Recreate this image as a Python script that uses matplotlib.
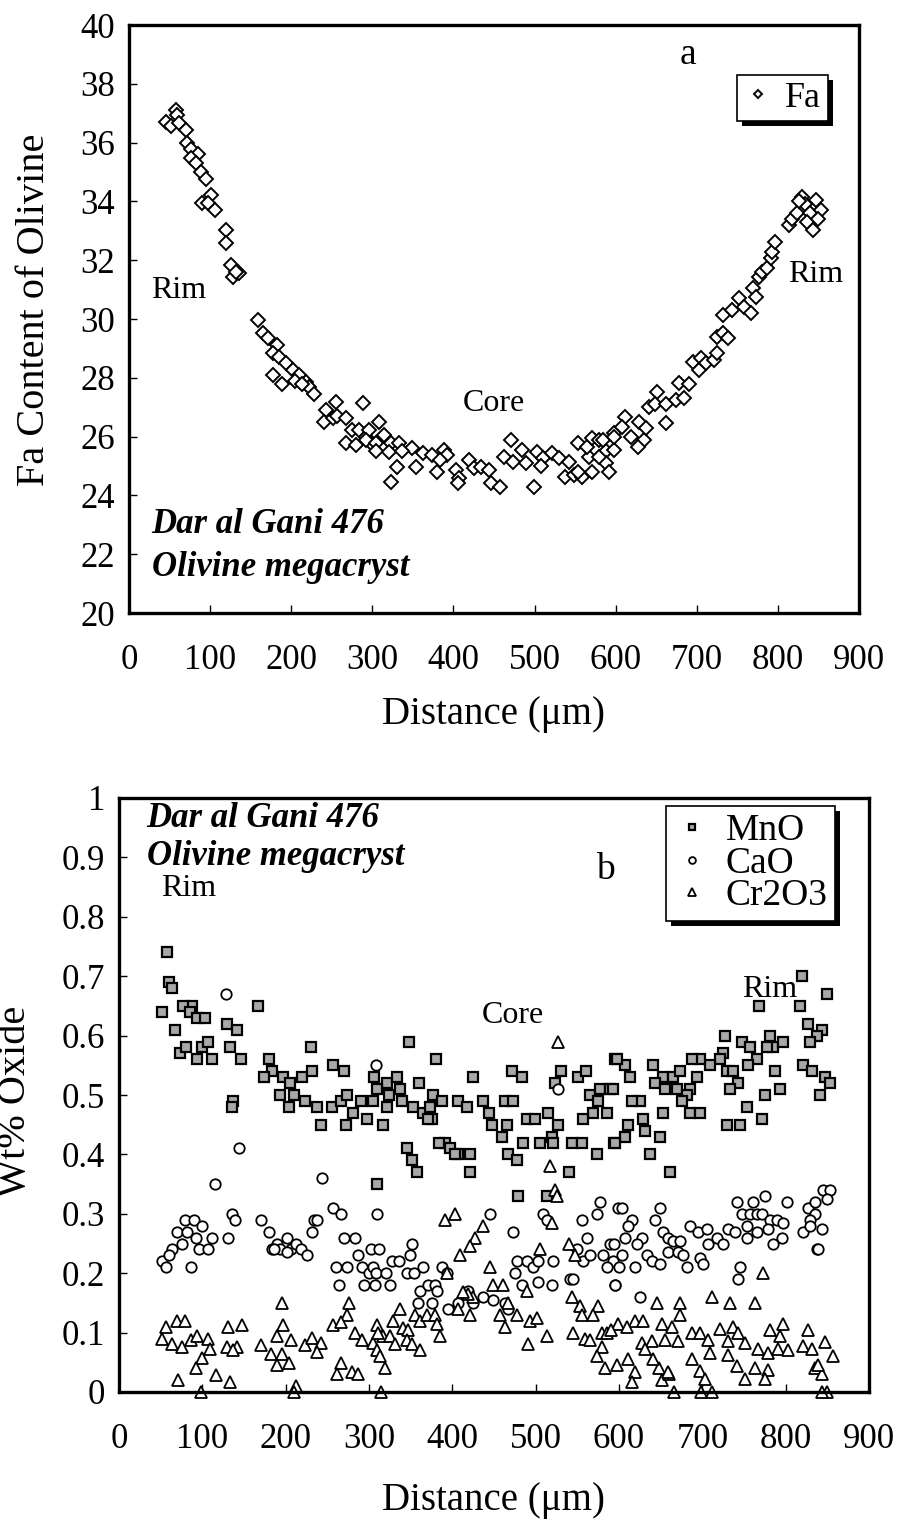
import numpy as np
import matplotlib
matplotlib.use("Agg")
import matplotlib.pyplot as plt
from matplotlib.patches import Rectangle
from matplotlib.transforms import IdentityTransform
from matplotlib.ticker import FuncFormatter

plt.rcParams['font.family'] = ['Liberation Serif', 'DejaVu Serif']

# ---------------- data ----------------
# panel a : Fa content vs distance
fa_dist = [46, 58, 59, 52, 62, 70, 71, 76, 85, 76, 83, 89, 95, 101, 90, 97, 106, 119, 120, 126, 128, 136, 132,
           159, 165, 171, 183, 177, 185, 193, 177, 189, 202, 210, 218, 222, 228, 205, 213, 243, 255, 241, 251,
           256, 267, 288, 275, 284, 267, 280, 292, 298,
           308, 296, 314, 292, 304, 323, 333, 349, 304, 321, 337, 362, 374, 388, 392, 331, 354, 380, 323, 384,
           403, 407, 405, 419, 425, 434, 444, 446, 458, 471, 462, 473, 485, 489, 503, 510, 508, 499, 522, 530,
           543, 553, 538, 549, 559, 567, 565, 571, 580, 588, 588, 592, 598,
           553, 571, 584, 579, 598, 598, 612, 608, 619, 629, 635, 627, 637, 641, 651, 649, 662, 662, 674, 678,
           684, 690, 695, 703, 705, 711, 721, 725, 725, 732, 738, 732, 744, 752, 758, 767, 769, 773, 777, 781,
           787, 791, 793, 797, 814, 818, 824, 830, 834, 840, 847, 853, 836, 849, 843, 826]
fa_val = [36.7, 37.1, 36.95, 36.56, 36.66, 36.43, 35.98, 35.77, 35.6, 35.47, 35.3, 35.01, 34.75, 34.22, 33.96,
          33.94, 33.7, 33.03, 32.6, 31.84, 31.44, 31.57, 31.6,
          29.97, 29.51, 29.34, 29.1, 28.83, 28.72, 28.49, 28.1, 27.79, 28.27, 28.1, 27.87, 27.7, 27.45, 27.9,
          27.8, 26.9, 27.19, 26.5, 26.62, 26.7, 26.62, 27.13, 26.22, 26.22, 25.77, 25.71, 26.0, 25.77,
          26.5, 26.22, 26.05, 25.88, 25.77, 25.77, 25.77, 25.6, 25.5, 25.49, 25.5, 25.43, 25.37, 25.54, 25.37,
          24.98, 24.98, 24.81, 24.47, 25.2, 24.86, 24.58, 24.41, 25.2, 24.92, 24.98, 24.86, 24.41, 24.28,
          25.88, 25.32, 25.15, 25.54, 25.09, 25.49, 25.26, 25.0, 24.3, 25.43, 25.26, 25.15, 25.77, 24.64,
          24.7, 24.64, 25.3, 25.65, 25.94, 25.88, 25.5, 25.1, 24.81, 26.11,
          24.81, 24.81, 25.88, 25.3, 25.54, 26.0, 26.68, 26.34, 26.0, 26.5, 25.88, 25.66, 26.3, 27.02, 27.53,
          27.1, 26.45, 27.1, 27.24, 27.81, 27.3, 27.8, 28.55, 28.27, 28.66, 28.5, 28.6, 28.83, 29.4, 29.51,
          29.34, 30.14, 30.31, 30.7, 30.4, 30.19, 31.04, 30.76, 31.44, 31.6, 31.72, 32.06, 32.29, 32.63,
          33.2, 33.4, 33.6, 34.16, 33.9, 33.6, 34.05, 33.7, 33.31, 33.4, 33.03, 34.0]

# panel b : MnO
mno_dist = [58, 60, 64, 51, 88, 77, 85, 94, 103, 67, 73, 80, 94, 99, 107, 111, 129, 142, 133, 146, 167, 230,
            180, 184, 174, 197, 205, 219, 232, 257, 270, 137, 136, 193, 210, 204, 223, 238, 242, 255, 266, 274,
            290, 305, 281, 272, 298, 322, 317, 324, 309,
            348, 380, 306, 333, 309, 337, 360, 377, 387, 321, 340, 353, 365, 373, 375, 371, 407, 417, 437, 444,
            425, 463, 473, 471, 483, 447, 459, 465, 489, 499, 515, 527, 519, 485, 505, 521, 467, 477, 421, 421,
            407, 391, 384, 397, 403, 345, 351, 357, 479, 513, 540, 530, 551, 560, 523, 565, 577, 589, 575, 585,
            569, 557, 543, 555, 573, 594, 595,
            819, 850, 768, 817, 727, 725, 827, 843, 837, 829, 747, 757, 781, 785, 797, 777, 765, 755, 721, 709,
            697, 687, 693, 729, 737, 743, 733, 787, 793, 775, 753, 771, 729, 745, 821, 831, 847, 853, 841, 641,
            653, 665, 673, 685, 643, 655, 669, 681, 653, 675, 685, 697, 625, 615, 629, 631, 649, 637, 607, 595,
            611, 661, 607, 597, 613, 593]
mno_val = [.74, .69, .68, .64, .65, .65, .64, .63, .63, .61, .57, .58, .56, .58, .59, .56, .62, .61, .58, .56,
           .65, .58, .56, .54, .53, .53, .52, .53, .54, .55, .54, .49, .48, .50, .50, .48, .49, .48, .45, .48,
           .49, .50, .49, .49, .47, .45, .46, .52, .45, .50, .35,
           .59, .56, .53, .53, .51, .51, .52, .50, .49, .48, .49, .48, .47, .48, .46, .46, .49, .48, .49, .47,
           .53, .49, .49, .54, .53, .45, .43, .45, .46, .46, .47, .45, .43, .42, .42, .42, .40, .39, .40, .37,
           .40, .42, .42, .41, .40, .41, .39, .37, .33, .33, .37, .54, .53, .54, .52, .50, .51, .51, .49, .47,
           .47, .46, .42, .42, .40, .42, .56,
           .70, .67, .65, .65, .60, .57, .62, .61, .60, .59, .59, .58, .60, .58, .59, .58, .56, .55, .56, .55,
           .56, .56, .53, .54, .54, .52, .51, .54, .51, .50, .48, .46, .45, .45, .55, .54, .53, .52, .50, .55,
           .53, .53, .54, .51, .52, .51, .51, .50, .47, .49, .47, .47, .49, .49, .46, .44, .43, .40, .43, .42,
           .45, .37, .55, .56, .53, .51]

# panel b : CaO
cao_dist = [128, 144, 115, 244, 308, 79, 90, 99, 69, 81, 92, 111, 75, 96, 107, 64, 51, 56, 60, 86, 131, 135,
            139, 170, 180, 189, 184, 193, 201, 206, 212, 218, 225, 232, 234, 238, 201, 186, 257, 266, 270, 283,
            260, 264, 274, 291, 300, 307, 294, 287, 302,
            309, 312, 305, 308, 320, 325, 328, 336, 349, 352, 345, 354, 365, 361, 371, 379, 381, 387, 393, 359,
            375, 395, 407, 419, 425, 437, 445, 449, 463, 467, 473, 477, 489, 497, 503, 475, 483, 503, 519, 521,
            509, 513, 555, 577, 573, 561, 541, 545, 557, 565, 581, 589, 593, 585, 595, 549, 599, 527,
            603, 649, 643, 615, 611, 607, 627, 594, 603, 621, 633, 639, 649, 619, 600, 595, 625, 653, 659, 665,
            673, 659, 671, 677, 681, 697, 701, 685, 695, 705, 707, 717, 725, 731, 739, 741, 747, 757, 761, 775,
            765, 771, 781, 789, 797, 801, 753, 765, 779, 753, 795, 785, 745, 743, 827, 835, 845, 853, 849, 835,
            829, 821, 829, 843, 837, 839]
cao_val = [.67, .41, .35, .36, .55, .29, .29, .28, .27, .27, .26, .26, .25, .24, .24, .24, .22, .21, .23, .21,
           .26, .30, .29, .29, .27, .25, .24, .24, .26, .24, .25, .24, .23, .27, .29, .29, .235, .24, .31, .30,
           .26, .26, .21, .18, .21, .21, .20, .18, .18, .23, .24,
           .30, .24, .21, .20, .20, .18, .22, .22, .23, .25, .20, .20, .21, .17, .18, .18, .17, .21, .20, .15,
           .15, .14, .15, .17, .15, .16, .30, .155, .15, .14, .27, .22, .22, .21, .22, .20, .18, .185, .18, .22,
           .30, .29, .29, .32, .30, .26, .19, .19, .22, .23, .23, .25, .22, .21, .18, .24, .31, .51,
           .31, .31, .29, .29, .28, .26, .26, .25, .23, .25, .23, .22, .215, .21, .21, .18, .16, .27, .26, .255,
           .255, .235, .235, .23, .21, .225, .215, .28, .27, .275, .25, .26, .25, .275, .27, .32, .30, .30, .32,
           .33, .30, .30, .29, .29, .285, .32, .28, .27, .275, .26, .26, .25, .21, .19, .31, .32, .34, .34, .325,
           .30, .29, .27, .28, .275, .24, .24]

# panel b : Cr2O3
cr_dist = [195, 276, 274, 69, 79, 56, 51, 64, 75, 86, 94, 107, 109, 100, 92, 71, 116, 133, 131, 148, 129, 142,
           137, 170, 189, 197, 206, 182, 195, 204, 189, 223, 232, 242, 238, 257, 266, 283, 291, 305, 266, 279,
           287, 262, 309, 309,
           98, 212, 210, 314, 651, 666, 698, 712, 850, 844, 648, 660,
           527, 517, 523, 525, 403, 391, 437, 519, 427, 421, 409, 393, 445, 505, 540, 547, 449, 461, 489, 425,
           467, 457, 477, 493, 501, 463, 491, 513, 545, 543, 553, 555, 575, 569, 559, 565, 579, 573, 583, 597,
           337, 355, 361, 369, 379, 381, 385, 341, 347, 329, 317, 325, 345, 351, 361, 331, 311, 313, 319, 419,
           413, 407, 421,
           773, 711, 645, 673, 733, 763, 673, 619, 629, 651, 663, 599, 609, 687, 697, 721, 737, 743, 781, 797,
           793, 827, 847, 627, 639, 655, 671, 707, 731, 751, 767, 779, 791, 803, 821, 831, 857, 631, 641, 687,
           709, 731, 741, 763, 779, 611, 619, 659, 697, 703, 751, 775, 835, 843, 839, 615, 580, 585, 590]
cr_val = [.15, .15, .13, .12, .12, .11, .09, .08, .076, .088, .094, .09, .073, .058, .04, .02, .028, .016, .109,
          .112, .076, .076, .07, .079, .094, .112, .088, .064, .064, .049, .046, .079, .091, .082, .067, .112,
          .118, .10, .088, .082, .049, .034, .031, .031, .112, .07,
          0, .01, 0, 0, .02, 0, 0, 0, 0, 0, .04, .03,
          .59, .38, .34, .33, .30, .29, .28, .284, .26, .245, .23, .20, .21, .24, .25, .23, .18, .18, .17, .16,
          .15, .13, .13, .12, .125, .11, .08, .094, .10, .16, .145, .13, .145, .13, .09, .088, .076, .06, .04,
          .045, .14, .13, .12, .13, .13, .115, .094, .107, .104, .119, .094, .094, .088, .08, .07, .08, .10,
          .06, .04, .165, .168, .14, .13,
          .20, .16, .15, .15, .15, .15, .13, .12, .12, .115, .11, .115, .11, .10, .10, .106, .11, .10, .105,
          .115, .094, .105, .085, .083, .086, .088, .086, .088, .086, .083, .072, .066, .072, .07, .078, .072,
          .06, .072, .055, .055, .066, .063, .043, .04, .037, .055, .034, .034, .036, .022, .022, .022, .04,
          .03, .045, .017, .10, .10, .105]

fa_ticks = np.arange(20, 41, 2)
wt_ticks = np.arange(0, 1.01, 0.1)
dist_ticks = np.arange(0, 901, 100)

W, H = 898, 1531
fig = plt.figure(figsize=(W / 100, H / 100), dpi=100)


def px_axes(left, right, top, bottom):
    return fig.add_axes([left / W, 1 - bottom / H, (right - left) / W, (bottom - top) / H])


def style_axes(ax):
    for s in ax.spines.values():
        s.set_linewidth(2.4)
    ax.tick_params(direction='in', length=6, width=1, labelsize=25,
                   top=False, right=False)
    ax.tick_params(axis='x', pad=22)
    ax.tick_params(axis='y', pad=10)
    ax.set_xlim(0, 900)
    ax.set_xticks(dist_ticks)


def add_shadow(ax, leg, off=5):
    # black drop shadow behind the legend box, offset down-right
    fig.canvas.draw()
    bb = leg.get_frame().get_window_extent()
    sh = Rectangle((bb.x0 + off, bb.y0 - off), bb.width, bb.height,
                   transform=IdentityTransform(), facecolor='black', edgecolor='none',
                   zorder=leg.get_zorder() - 0.5, clip_on=False)
    ax.add_artist(sh)


# ---------------- panel a ----------------
ax1 = px_axes(129, 859, 25, 613)
style_axes(ax1)
ax1.set_ylim(20, 40)
ax1.set_yticks(fa_ticks)
ax1.plot(fa_dist, fa_val, linestyle='none', marker='D', markersize=7.5,
         markerfacecolor='white', markeredgecolor='black', markeredgewidth=1.4, label='Fa')

ax1.text(0.5, -0.173, 'Distance (μm)', transform=ax1.transAxes, ha='center', va='center', fontsize=28)
ax1.text(-0.13, 0.515, 'Fa Content of Olivine', transform=ax1.transAxes, ha='center', va='center',
         rotation=90, fontsize=29)
ax1.text(0.068, 0.549, 'Rim', transform=ax1.transAxes, ha='center', va='center', fontsize=23)
ax1.text(0.941, 0.575, 'Rim', transform=ax1.transAxes, ha='center', va='center', fontsize=23)
ax1.text(0.50, 0.357, 'Core', transform=ax1.transAxes, ha='center', va='center', fontsize=23)
ax1.text(0.031, 0.15, 'Dar al Gani 476', transform=ax1.transAxes, ha='left', va='center',
         fontsize=25, fontweight='bold', style='italic')
ax1.text(0.031, 0.077, 'Olivine megacryst', transform=ax1.transAxes, ha='left', va='center',
         fontsize=25, fontweight='bold', style='italic')
ax1.text(0.766, 0.949, 'a', transform=ax1.transAxes, ha='center', va='center', fontsize=27)

leg1 = ax1.legend(loc='upper right', bbox_to_anchor=(0.957, 0.915), fontsize=26, markerscale=0.6,
                  handlelength=0.8, handletextpad=0.35, borderpad=0.18, borderaxespad=0,
                  fancybox=False, framealpha=1, edgecolor='black')
leg1.get_frame().set_linewidth(1.2)

# ---------------- panel b ----------------
ax2 = px_axes(119, 869, 798, 1392)
style_axes(ax2)
ax2.set_ylim(0, 1)
ax2.set_yticks(wt_ticks)
ax2.yaxis.set_major_formatter(FuncFormatter(lambda v, p: '%g' % round(v, 1)))

ax2.plot(mno_dist, mno_val, linestyle='none', marker='s', markersize=6.5, clip_on=False,
         markerfacecolor='#a8a8a8', markeredgecolor='black', markeredgewidth=1.6, label='MnO')
ax2.plot(cao_dist, cao_val, linestyle='none', marker='o', markersize=7.5, clip_on=False,
         markerfacecolor='white', markeredgecolor='black', markeredgewidth=1.3, label='CaO')
ax2.plot(cr_dist, cr_val, linestyle='none', marker='^', markersize=8, clip_on=False,
         markerfacecolor='white', markeredgecolor='black', markeredgewidth=1.3, label='Cr2O3')

ax2.text(0.5, -0.183, 'Distance (μm)', transform=ax2.transAxes, ha='center', va='center', fontsize=28)
ax2.text(-0.138, 0.49, 'Wt% Oxide', transform=ax2.transAxes, ha='center', va='center',
         rotation=90, fontsize=29)
ax2.text(0.093, 0.848, 'Rim', transform=ax2.transAxes, ha='center', va='center', fontsize=23)
ax2.text(0.868, 0.677, 'Rim', transform=ax2.transAxes, ha='center', va='center', fontsize=23)
ax2.text(0.525, 0.633, 'Core', transform=ax2.transAxes, ha='center', va='center', fontsize=23)
ax2.text(0.037, 0.966, 'Dar al Gani 476', transform=ax2.transAxes, ha='left', va='center',
         fontsize=25, fontweight='bold', style='italic')
ax2.text(0.037, 0.902, 'Olivine megacryst', transform=ax2.transAxes, ha='left', va='center',
         fontsize=25, fontweight='bold', style='italic')
ax2.text(0.648, 0.879, 'b', transform=ax2.transAxes, ha='center', va='center', fontsize=27)

leg2 = ax2.legend(loc='upper right', bbox_to_anchor=(0.955, 0.9865), fontsize=27, markerscale=0.65,
                  handlelength=1.0, handletextpad=0.4, borderpad=0.2, borderaxespad=0,
                  labelspacing=-0.05, fancybox=False, framealpha=1, edgecolor='black')
leg2.get_frame().set_linewidth(1.2)

add_shadow(ax1, leg1)
add_shadow(ax2, leg2)

fig.savefig('out.png', dpi=100)
